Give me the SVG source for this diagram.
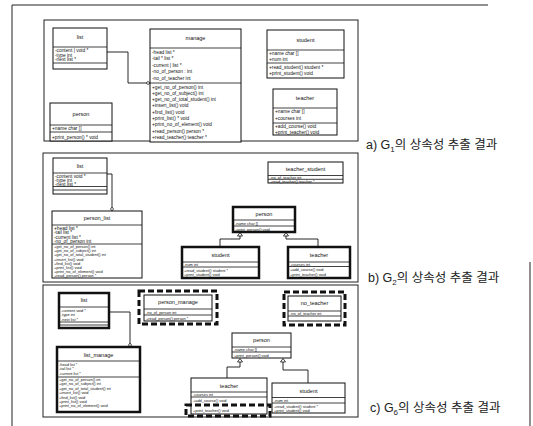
<svg xmlns="http://www.w3.org/2000/svg" width="533" height="426" viewBox="0 0 533 426">
<style>
.frame{fill:none;stroke:#222;stroke-width:1}
.box{fill:#fff;stroke:#111;stroke-width:1}
.thick{fill:#fff;stroke:#111;stroke-width:2.5}
.dash{fill:none;stroke:#111;stroke-width:3;stroke-dasharray:6 3}
.sep{stroke:#111;stroke-width:0.8}
.nm{font-family:"Liberation Sans",Arial,sans-serif;font-size:5.5px;fill:#111;text-anchor:middle}
.r{font-family:"Liberation Sans",Arial,sans-serif;font-size:4.8px;fill:#111}
.rs{font-family:"Liberation Sans",Arial,sans-serif;font-size:3.9px;fill:#111}
.cap{font-family:"Liberation Sans","Noto Sans CJK KR",sans-serif;font-size:12.5px;fill:#222}
.ln{fill:none;stroke:#111;stroke-width:0.9}
.dia{fill:#fff;stroke:#111;stroke-width:0.8}
.tri{fill:#fff;stroke:#111;stroke-width:0.8}
</style>
<rect width="533" height="426" fill="#fff"/>
<g id="outer-frame">
<line class="frame" x1="12" y1="5" x2="488" y2="5"/>
<line class="frame" x1="12" y1="5" x2="12" y2="426"/>
<line class="frame" x1="530" y1="262" x2="530" y2="426"/>
</g>
<g id="panels">
<rect class="frame" x="44" y="20" width="314" height="121"/>
<rect class="frame" x="43" y="153" width="315" height="129"/>
<rect class="frame" x="43" y="285" width="315" height="132"/>
</g>
<g id="connectors">
<polyline class="ln" points="107,52 128,52 128,83 146,83"/>
<polygon class="dia" points="146,83 148,81.5 150,83 148,84.5"/>
<polyline class="ln" points="107,174 112,174 112,207"/>
<polygon class="dia" points="112,207 113.5,209 112,211 110.5,209"/>
<polyline class="ln" points="240,236 240,239 220,239 220,247"/>
<polygon class="tri" points="240,232.5 237.5,236 242.5,236"/>
<polyline class="ln" points="286,236 286,239 318,239 318,247"/>
<polygon class="tri" points="286,232.5 283.5,236 288.5,236"/>
<polyline class="ln" points="109,312 130,312 130,343"/>
<polygon class="dia" points="130,343 131.5,345 130,347 128.5,345"/>
<polyline class="ln" points="240,362 240,367 227,367 227,378"/>
<polygon class="tri" points="240,358.5 237.5,362 242.5,362"/>
<polyline class="ln" points="283,362 283,370 308,370 308,383"/>
<polygon class="tri" points="283,358.5 280.5,362 285.5,362"/>
</g>
<g id="a-list">
<rect class="box" x="53" y="28" width="54" height="41"/>
<line class="sep" x1="53" y1="47" x2="107" y2="47"/>
<line class="sep" x1="53" y1="63" x2="107" y2="63"/>
<text class="nm" x="80" y="39">list</text>
<text class="r" x="55" y="52">-content | void *</text>
<text class="r" x="55" y="56.7">-type   int</text>
<text class="r" x="55" y="61.4">-next   list *</text>
</g>
<g id="a-manage">
<rect class="box" x="150" y="29" width="91" height="113"/>
<line class="sep" x1="150" y1="48" x2="241" y2="48"/>
<line class="sep" x1="150" y1="83" x2="241" y2="83"/>
<text class="nm" x="195.5" y="40">manage</text>
<text class="r" x="152" y="53.5">-head   list *</text>
<text class="r" x="152" y="60">-tail * list *</text>
<text class="r" x="152" y="66.5">-current | list *</text>
<text class="r" x="152" y="73">-no_of_person : int</text>
<text class="r" x="152" y="79.5">-no_of_teacher   int</text>
<text class="r" x="152" y="88.5">+get_no_of_person()   int</text>
<text class="r" x="152" y="94.8">+get_no_of_subject()   int</text>
<text class="r" x="152" y="101.1">+get_no_of_total_student()   int</text>
<text class="r" x="152" y="107.4">+insert_list()   void</text>
<text class="r" x="152" y="113.7">+find_list()   void</text>
<text class="r" x="152" y="120">+print_list() * void</text>
<text class="r" x="152" y="126.3">+print_no_of_element()   void</text>
<text class="r" x="152" y="132.6">+read_person()   person *</text>
<text class="r" x="152" y="138.9">+read_teacher()   teacher *</text>
</g>
<g id="a-person">
<rect class="box" x="50" y="103" width="62" height="38"/>
<line class="sep" x1="50" y1="125" x2="112" y2="125"/>
<line class="sep" x1="50" y1="132" x2="112" y2="132"/>
<text class="nm" x="81" y="116">person</text>
<text class="r" x="52" y="130">+name   char []</text>
<text class="r" x="52" y="138.5">+print_person() * void</text>
</g>
<g id="a-student">
<rect class="box" x="267" y="30" width="77" height="48"/>
<line class="sep" x1="267" y1="50" x2="344" y2="50"/>
<line class="sep" x1="267" y1="63" x2="344" y2="63"/>
<text class="nm" x="305.5" y="42">student</text>
<text class="r" x="269" y="55">+name   char []</text>
<text class="r" x="269" y="61">+num   int</text>
<text class="r" x="269" y="68.5">+read_student()   student *</text>
<text class="r" x="269" y="75">+print_student()   void</text>
</g>
<g id="a-teacher">
<rect class="box" x="273" y="89" width="64" height="46"/>
<line class="sep" x1="273" y1="108" x2="337" y2="108"/>
<line class="sep" x1="273" y1="123" x2="337" y2="123"/>
<text class="nm" x="305" y="100">teacher</text>
<text class="r" x="275" y="113">+name   char []</text>
<text class="r" x="275" y="119.5">+courses   int</text>
<text class="r" x="275" y="128">+add_course()   void</text>
<text class="r" x="275" y="133.5">+print_teacher()   void</text>
</g>
<g id="b-list">
<rect class="box" x="53" y="158" width="54" height="36"/>
<line class="sep" x1="53" y1="173" x2="107" y2="173"/>
<line class="sep" x1="53" y1="186.5" x2="107" y2="186.5"/>
<line class="sep" x1="53" y1="190" x2="107" y2="190"/>
<text class="nm" x="80" y="167.5">list</text>
<text class="r" x="55" y="177.5">-content   void *</text>
<text class="r" x="55" y="181.6">-type   int</text>
<text class="r" x="55" y="185.7">-next   list *</text>
</g>
<g id="b-person_list">
<rect class="box" x="52" y="211" width="90" height="67"/>
<line class="sep" x1="52" y1="225" x2="142" y2="225"/>
<line class="sep" x1="52" y1="244" x2="142" y2="244"/>
<text class="nm" x="97" y="220">person_list</text>
<text class="r" x="54" y="229.5">+head   list *</text>
<text class="r" x="54" y="234">-tail   list *</text>
<text class="r" x="54" y="238.5">-current   list *</text>
<text class="r" x="54" y="243">-no_of_person   int</text>
<text class="rs" x="54" y="248.2">+get_no_of_person()   int</text>
<text class="rs" x="54" y="252.3">+get_no_of_subject()   int</text>
<text class="rs" x="54" y="256.4">+get_no_of_total_student()   int</text>
<text class="rs" x="54" y="260.5">+insert_list()   void</text>
<text class="rs" x="54" y="264.6">+find_list()   void</text>
<text class="rs" x="54" y="268.7">+print_list()   void</text>
<text class="rs" x="54" y="272.8">+print_no_of_element()   void</text>
<text class="rs" x="54" y="276.9">+read_person()   person *</text>
</g>
<g id="b-teacher_student">
<rect class="box" x="268" y="162" width="75" height="21"/>
<line class="sep" x1="268" y1="175.5" x2="343" y2="175.5"/>
<line class="sep" x1="268" y1="179.3" x2="343" y2="179.3"/>
<text class="nm" x="305.5" y="171">teacher_student</text>
<text class="rs" x="270" y="178.8">-no_of_teacher   int</text>
<text class="rs" x="270" y="182.5">+read_teacher()   teacher *</text>
</g>
<g id="b-person">
<rect class="thick" x="233" y="207" width="62" height="25"/>
<line class="sep" x1="233" y1="220" x2="295" y2="220"/>
<line class="sep" x1="233" y1="226" x2="295" y2="226"/>
<text class="nm" x="264" y="216">person</text>
<text class="rs" x="235" y="224.5">-name   char []</text>
<text class="rs" x="235" y="230.5">+print_person()   void</text>
</g>
<g id="b-student">
<rect class="thick" x="182" y="247" width="77" height="31"/>
<line class="sep" x1="182" y1="262" x2="259" y2="262"/>
<line class="sep" x1="182" y1="267" x2="259" y2="267"/>
<text class="nm" x="220.5" y="257">student</text>
<text class="rs" x="184" y="266">-num   int</text>
<text class="rs" x="184" y="271.5">+read_student()   student *</text>
<text class="rs" x="184" y="276">+print_student()   void</text>
</g>
<g id="b-teacher">
<rect class="thick" x="288" y="247" width="62" height="31"/>
<line class="sep" x1="288" y1="262" x2="350" y2="262"/>
<line class="sep" x1="288" y1="266.5" x2="350" y2="266.5"/>
<text class="nm" x="319" y="257">teacher</text>
<text class="rs" x="290" y="265.5">-courses   int</text>
<text class="rs" x="290" y="271">+add_course()   void</text>
<text class="rs" x="290" y="276">+print_teacher()   void</text>
</g>
<g id="c-list">
<rect class="thick" x="59" y="293" width="50" height="35"/>
<line class="sep" x1="59" y1="307" x2="109" y2="307"/>
<line class="sep" x1="59" y1="322" x2="109" y2="322"/>
<line class="sep" x1="59" y1="325" x2="109" y2="325"/>
<text class="nm" x="84" y="302">list</text>
<text class="rs" x="61" y="311.5">-content   void *</text>
<text class="rs" x="61" y="316">-type   int</text>
<text class="rs" x="61" y="320.5">-next   list *</text>
</g>
<g id="c-list_manage">
<rect class="thick" x="57" y="347" width="83" height="65"/>
<line class="sep" x1="57" y1="361" x2="140" y2="361"/>
<line class="sep" x1="57" y1="377" x2="140" y2="377"/>
<text class="nm" x="98.5" y="356.5">list_manage</text>
<text class="rs" x="59" y="366">-head   list *</text>
<text class="rs" x="59" y="370.3">-tail   list *</text>
<text class="rs" x="59" y="374.6">-current   list *</text>
<text class="rs" x="59" y="381">+get_no_of_person()   int</text>
<text class="rs" x="59" y="385.4">+get_no_of_subject()   int</text>
<text class="rs" x="59" y="389.8">+get_no_of_total_student()   int</text>
<text class="rs" x="59" y="394.2">+insert_list()   void</text>
<text class="rs" x="59" y="398.6">+find_list()   void</text>
<text class="rs" x="59" y="403">+print_list()   void</text>
<text class="rs" x="59" y="407.4">+print_no_of_element()   void</text>
</g>
<g id="c-person_manage">
<rect class="dash" x="139" y="291" width="78" height="33"/>
<rect class="box" x="144" y="295" width="68" height="26"/>
<line class="sep" x1="144" y1="309" x2="212" y2="309"/>
<line class="sep" x1="144" y1="315" x2="212" y2="315"/>
<text class="nm" x="178" y="304">person_manage</text>
<text class="rs" x="146" y="313.5">-no_of_person   int</text>
<text class="rs" x="146" y="319.5">+read_person()   person *</text>
</g>
<g id="c-no_teacher">
<rect class="dash" x="284" y="292" width="61" height="33"/>
<rect class="box" x="288" y="296" width="53" height="25"/>
<line class="sep" x1="288" y1="311" x2="341" y2="311"/>
<line class="sep" x1="288" y1="316" x2="341" y2="316"/>
<text class="nm" x="314.5" y="305">no_teacher</text>
<text class="rs" x="290" y="314.8">-no_of_teacher   int</text>
</g>
<g id="c-person">
<rect class="box" x="232" y="333" width="59" height="25"/>
<line class="sep" x1="232" y1="347" x2="291" y2="347"/>
<line class="sep" x1="232" y1="352" x2="291" y2="352"/>
<text class="nm" x="261.5" y="342">person</text>
<text class="rs" x="234" y="351">-name   char []</text>
<text class="rs" x="234" y="356.5">+print_person()   void</text>
</g>
<g id="c-teacher">
<rect class="box" x="191" y="378" width="76" height="36"/>
<line class="sep" x1="191" y1="392" x2="267" y2="392"/>
<line class="sep" x1="191" y1="397" x2="267" y2="397"/>
<text class="nm" x="229" y="387.5">teacher</text>
<text class="rs" x="193" y="396">-courses   int</text>
<text class="rs" x="193" y="401.5">+add_course()   void</text>
<text class="rs" x="193" y="412">+print_teacher()   void</text>
<rect class="dash" x="186" y="405" width="84" height="11"/>
</g>
<g id="c-student">
<rect class="box" x="272" y="383" width="73" height="30"/>
<line class="sep" x1="272" y1="397.5" x2="345" y2="397.5"/>
<line class="sep" x1="272" y1="403" x2="345" y2="403"/>
<text class="nm" x="308.5" y="392.5">student</text>
<text class="rs" x="274" y="401.5">-num   int</text>
<text class="rs" x="274" y="407.5">+read_student()   student *</text>
<text class="rs" x="274" y="411.8">+print_student()   void</text>
</g>
<g id="captions">
<text class="cap" x="366" y="149">a) G<tspan font-size="8" dy="2.5">1</tspan><tspan dy="-2.5">의 상속성 추출 결과</tspan></text>
<text class="cap" x="368" y="282">b) G<tspan font-size="8" dy="2.5">2</tspan><tspan dy="-2.5">의 상속성 추출 결과</tspan></text>
<text class="cap" x="370" y="412">c) G<tspan font-size="8" dy="2.5">6</tspan><tspan dy="-2.5">의 상속성 추출 결과</tspan></text>
</g>
</svg>
